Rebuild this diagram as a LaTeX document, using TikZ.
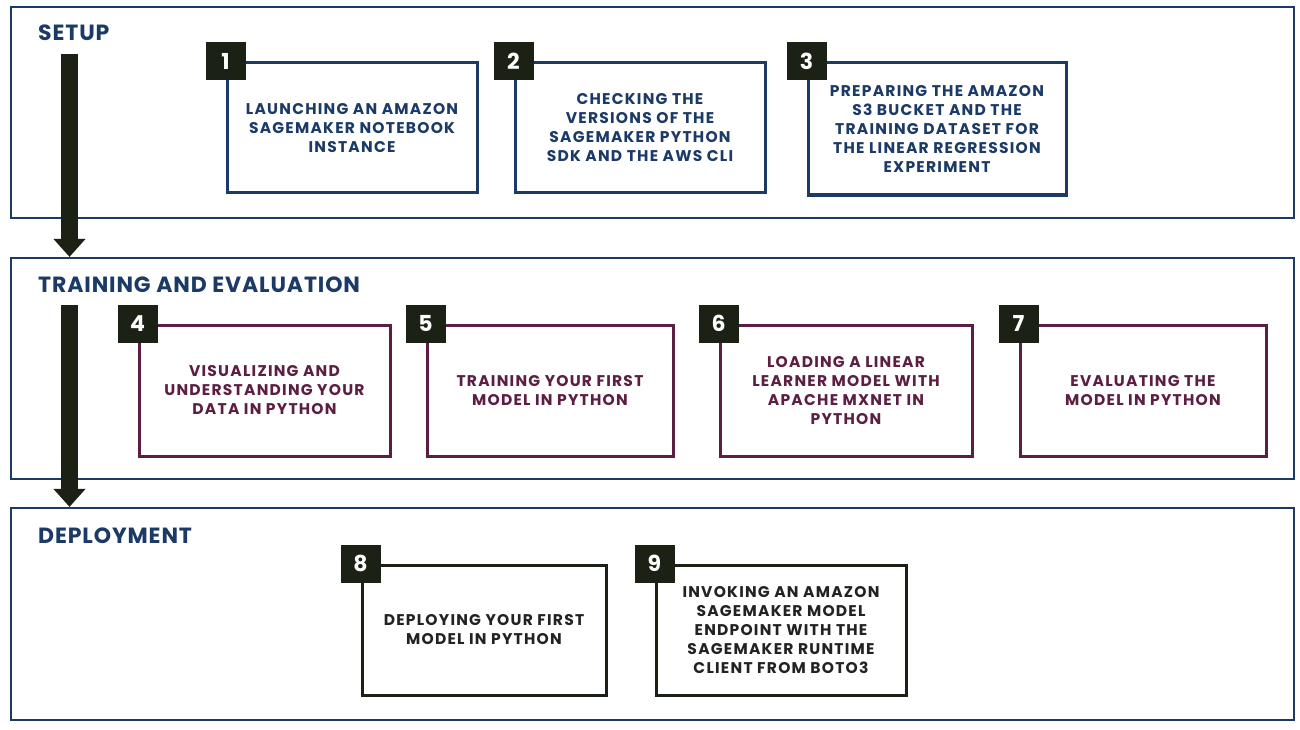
\documentclass[tikz,border=0pt]{standalone}
\usepackage{fontspec}
\setmainfont{Poppins}
\newfontfamily\stepfont{Poppins}[LetterSpace=8]
\newfontfamily\titlefont{Poppins}[LetterSpace=4]
\usetikzlibrary{arrows.meta}
\definecolor{navy}{HTML}{1B3A66}
\definecolor{maroonc}{HTML}{5C1E42}
\definecolor{darkc}{HTML}{1B2114}
\definecolor{deptext}{HTML}{222222}
\begin{document}
\begin{tikzpicture}[x=1pt,y=-1pt,
 section/.style={draw=navy,line width=2.2pt,inner sep=0},
 sectitle/.style={anchor=base west,font=\titlefont\fontsize{22}{25}\selectfont\bfseries,text=navy,inner sep=0},
 stepbox/.style={draw,line width=3pt,align=center,font=\stepfont\fontsize{15.5}{19}\selectfont\bfseries,inner sep=0,minimum height=130pt},
 setupbox/.style={stepbox,draw=navy,text=navy},
 trainbox/.style={stepbox,draw=maroonc,text=maroonc},
 depbox/.style={stepbox,draw=darkc,text=deptext},
 badge/.style={fill=darkc,text=white,minimum width=40pt,minimum height=38pt,inner sep=0,font=\fontsize{22}{22}\selectfont\bfseries},
 bigarrow/.style={draw=darkc,line width=17pt,-{Triangle[width=31pt,length=18pt]}}
]
\useasboundingbox (0,0) rectangle (1300,730);
\fill[white] (0,0) rectangle (1300,730);
% sections
\node[section,minimum width=1283pt,minimum height=211pt] (sec1) at (652.5,112.5) {};
\node[section,minimum width=1283pt,minimum height=221pt] (sec2) at (652.5,368.5) {};
\node[section,minimum width=1283pt,minimum height=212pt] (sec3) at (652.5,614) {};
\node[sectitle] (t1) at (38,41) {SETUP};
\node[sectitle] (t2) at (38,292) {TRAINING AND EVALUATION};
\node[sectitle] (t3) at (38,543) {DEPLOYMENT};
% arrows
\coordinate (a1s) at (69.5,54);
\coordinate (a2s) at (69.5,305);
\draw[bigarrow] (a1s) -- (sec2.north -| a1s);
\draw[bigarrow] (a2s) -- (sec3.north -| a2s);
% steps
\node[setupbox,minimum width=250pt] (s1) at (352,128) {LAUNCHING AN AMAZON\\SAGEMAKER NOTEBOOK\\INSTANCE};
\node[setupbox,minimum width=250pt] (s2) at (640,128) {CHECKING THE\\VERSIONS OF THE\\SAGEMAKER PYTHON\\SDK AND THE AWS CLI};
\node[setupbox,minimum width=258pt,minimum height=132pt] (s3) at (937,129) {PREPARING THE AMAZON\\S3 BUCKET AND THE\\TRAINING DATASET FOR\\THE LINEAR REGRESSION\\EXPERIMENT};
\node[trainbox,minimum width=251pt,minimum height=131pt] (s4) at (264.5,390.5) {VISUALIZING AND\\UNDERSTANDING YOUR\\DATA IN PYTHON};
\node[trainbox,minimum width=246pt,minimum height=131pt] (s5) at (550,390.5) {TRAINING YOUR FIRST\\MODEL IN PYTHON};
\node[trainbox,minimum width=252pt,minimum height=131pt] (s6) at (846,390.5) {LOADING A LINEAR\\LEARNER MODEL WITH\\APACHE MXNET IN\\PYTHON};
\node[trainbox,minimum width=246pt,minimum height=131pt] (s7) at (1143,390.5) {EVALUATING THE\\MODEL IN PYTHON};
\node[depbox,minimum width=244pt] (s8) at (484,630) {DEPLOYING YOUR FIRST\\MODEL IN PYTHON};
\node[depbox,minimum width=250pt] (s9) at (781,630) {INVOKING AN AMAZON\\SAGEMAKER MODEL\\ENDPOINT WITH THE\\SAGEMAKER RUNTIME\\CLIENT FROM BOTO3};
% badges
\foreach \i in {1,...,9}{
  \node[badge] (b\i) at (s\i.north west) {\i};
}
\end{tikzpicture}
\end{document}
